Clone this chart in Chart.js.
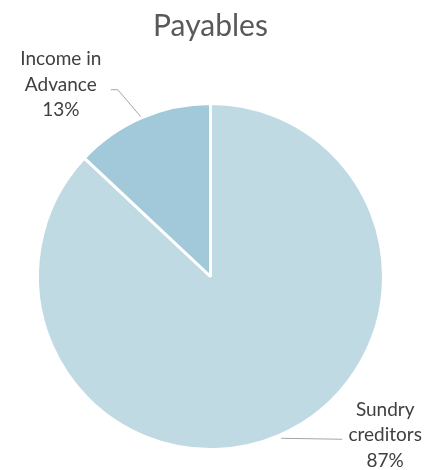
<!DOCTYPE html>
<html>
<head>
<meta charset="utf-8">
<script src="https://cdn.jsdelivr.net/npm/chart.js@4"></script>
<style>
  html, body { margin: 0; padding: 0; background: #fff; }
  #wrap { width: 430px; height: 470px; }
</style>
</head>
<body>
<div id="wrap"><canvas id="pie"></canvas></div>
<script>
// дані діаграми
const categories = ["Sundry creditors", "Income in Advance"];
const values = [87, 13];
const labelLines = [["Sundry", "creditors", "87%"], ["Income in", "Advance", "13%"]];
const colors = ["#C0DAE3", "#A1C9DA"];

// підписи з виносками
const calloutPlugin = {
    id: "callouts",
    afterDatasetsDraw(chart) {
        const ctx = chart.ctx;
        const arcs = chart.getDatasetMeta(0).data;
        ctx.save();
        ctx.font = "19px Lato";
        ctx.fillStyle = "#404040";
        ctx.textAlign = "center";
        ctx.textBaseline = "middle";
        ctx.strokeStyle = "#A6A6A6";
        ctx.lineWidth = 1;

        arcs.forEach((arc, i) => {
            const mid = (arc.startAngle + arc.endAngle) / 2;
            const px = arc.x + Math.cos(mid) * arc.outerRadius;
            const py = arc.y + Math.sin(mid) * arc.outerRadius;
            const right = Math.cos(mid) > 0;
            let tx, ty, ex, ey;
            if (right) {
                ex = px + 63; ey = py + 4;
                tx = ex + 43; ty = ey - 4;
                ctx.beginPath();
                ctx.moveTo(px + 2, py + 3);
                ctx.lineTo(ex, ey);
                ctx.stroke();
            } else {
                ex = px - 31; ey = py - 28;
                tx = ex - 50; ty = ey - 5;
                ctx.beginPath();
                ctx.moveTo(px - 1, py - 1);
                ctx.lineTo(ex + 7, ey);
                ctx.lineTo(ex, ey);
                ctx.stroke();
            }
            const lines = labelLines[i];
            lines.forEach((t, k) => {
                ctx.fillText(t, tx, ty + (k - 1) * 25.5);
            });
        });
        ctx.restore();
    }
};

new Chart(document.getElementById("pie"), {
    type: "pie",
    data: {
        labels: categories,
        datasets: [{
            data: values,
            backgroundColor: colors,
            borderColor: "#FFFFFF",
            borderWidth: 3
        }]
    },
    options: {
        responsive: true,
        maintainAspectRatio: false,
        animation: false,
        layout: { padding: { top: 8, left: 35, right: 44, bottom: 19 } },
        plugins: {
            legend: { display: false },
            tooltip: { enabled: false },
            title: {
                display: true,
                text: "Payables",
                color: "#595959",
                font: { family: "Lato", size: 30, weight: "normal" },
                padding: { top: 0, bottom: 58 }
            }
        }
    },
    plugins: [calloutPlugin]
});
</script>
</body>
</html>
